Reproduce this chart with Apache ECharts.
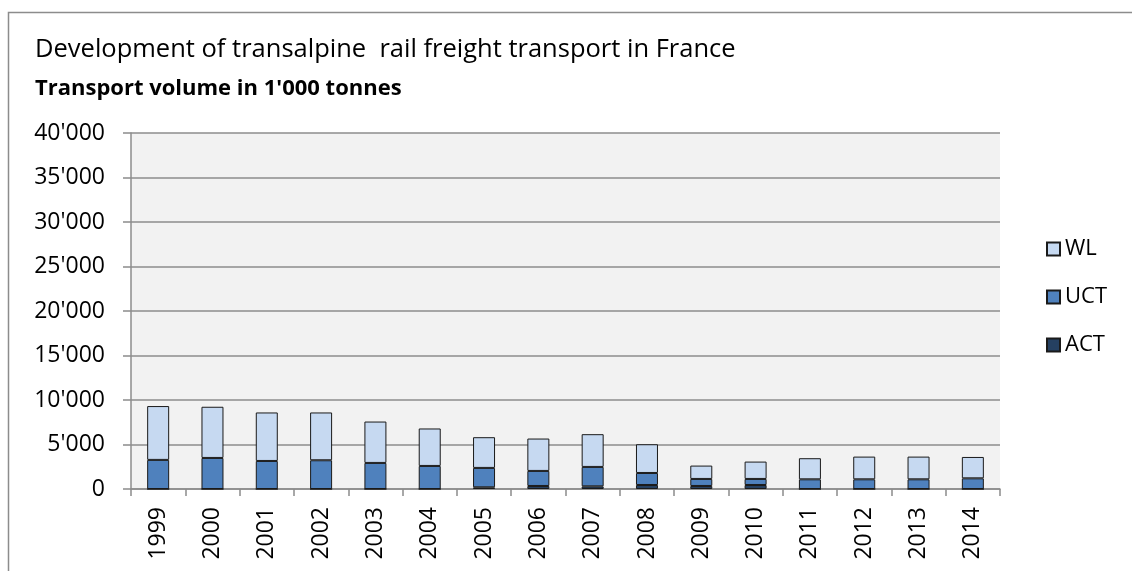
<!DOCTYPE html>
<html>
<head>
<meta charset="utf-8">
<script src="https://cdn.jsdelivr.net/npm/echarts@6/dist/echarts.min.js"></script>
<style>
  html, body { margin: 0; padding: 0; background: #fff; }
  #chart { width: 1132px; height: 571px; }
</style>
</head>
<body>
<div id="chart"></div>
<script>
// Transport volume in 1'000 tonnes, by year and transport mode
const years = ['1999','2000','2001','2002','2003','2004','2005','2006','2007','2008','2009','2010','2011','2012','2013','2014'];
const actValues = [0, 0, 0, 0, 0, 0, 190, 340, 300, 450, 340, 450, 0, 0, 0, 0];
const uctValues = [3270, 3490, 3150, 3230, 2930, 2590, 2180, 1690, 2180, 1350, 790, 680, 1090, 1090, 1090, 1200];
const wlValues  = [6050, 5750, 5450, 5370, 4650, 4210, 3450, 3640, 3680, 3230, 1500, 1950, 2370, 2550, 2550, 2400];
const yTicks = [0, 5000, 10000, 15000, 20000, 25000, 30000, 35000, 40000];

const FONT = '"Open Sans", Lato, sans-serif';

function fmtThousands(v) {
  return String(v).replace(/\B(?=(\d{3})+(?!\d))/g, "'");
}

const chart = echarts.init(document.getElementById('chart'), null, { renderer: 'canvas' });

const barBorder = { borderColor: '#1a1a1a', borderWidth: 1 };

chart.setOption({
  animation: false,
  backgroundColor: '#ffffff',
  graphic: [
    {
      type: 'rect',
      shape: { x: 8.5, y: 12.5, width: 1200, height: 700 },
      style: { fill: 'none', stroke: '#8c8c8c', lineWidth: 1.5 },
      silent: true,
      z: -10
    },
    {
      type: 'text',
      left: 35, top: 37,
      style: { text: 'Development of transalpine  rail freight transport in France', fontSize: 25.5, fontFamily: FONT, fill: '#000' }
    },
    {
      type: 'text',
      left: 35, top: 78,
      style: { text: "Transport volume in 1'000 tonnes", fontSize: 22, fontWeight: 'bold', fontFamily: FONT, fill: '#000' }
    }
  ],
  legend: {
    orient: 'vertical',
    left: 1041,
    top: 233,
    itemWidth: 13,
    itemHeight: 13,
    itemGap: 26,
    icon: 'rect',
    data: ['WL', 'UCT', 'ACT'],
    textStyle: { fontSize: 22, lineHeight: 22, fontFamily: FONT, color: '#000', padding: [0, 0, 0, 0] }
  },
  grid: { left: 131, right: 132, top: 133, bottom: 82, containLabel: false, show: true, backgroundColor: '#f2f2f2', borderWidth: 0 },
  xAxis: {
    type: 'category',
    data: years,
    boundaryGap: true,
    axisLine: { show: true, lineStyle: { color: '#8c8c8c', width: 1.5 } },
    axisTick: { show: true, alignWithLabel: false, length: 7, lineStyle: { color: '#8c8c8c', width: 1.5 } },
    axisLabel: { rotate: 90, fontSize: 23, fontFamily: FONT, color: '#000', margin: 18, interval: 0 }
  },
  yAxis: {
    type: 'value',
    min: 0,
    max: 40000,
    interval: 5000,
    axisLine: { show: true, lineStyle: { color: '#8c8c8c', width: 1.5 } },
    axisTick: { show: true, length: 8, lineStyle: { color: '#8c8c8c', width: 1.5 } },
    splitLine: { show: true, lineStyle: { color: '#8c8c8c', width: 1.5 } },
    axisLabel: {
      fontSize: 23, fontFamily: FONT, color: '#000', margin: 26,
      formatter: v => yTicks.includes(v) ? fmtThousands(v) : ''
    }
  },
  series: [
    {
      name: 'ACT', type: 'bar', stack: 'total', data: actValues, barWidth: 22,
      itemStyle: Object.assign({ color: '#254061' }, barBorder)
    },
    {
      name: 'UCT', type: 'bar', stack: 'total', data: uctValues, barWidth: 22,
      itemStyle: Object.assign({ color: '#4f81bd' }, barBorder)
    },
    {
      name: 'WL', type: 'bar', stack: 'total', data: wlValues, barWidth: 22,
      itemStyle: Object.assign({ color: '#c6d9f1' }, barBorder)
    }
  ]
});
</script>
</body>
</html>
